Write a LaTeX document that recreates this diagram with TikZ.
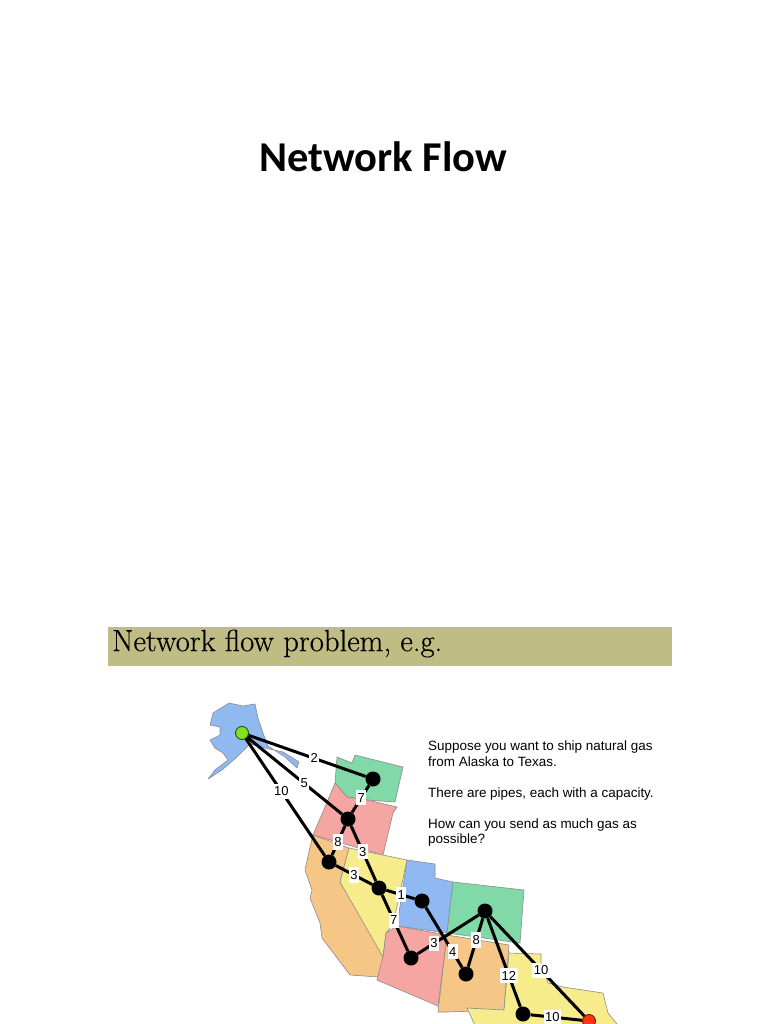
\documentclass[tikz,border=0pt]{standalone}
\usepackage{fontspec}
\setsansfont{Liberation Sans}
\newfontfamily\titlefont{Carlito}
\newfontfamily\bannerfont[FakeBold=0.4]{Latin Modern Roman}
\definecolor{bannercol}{HTML}{BFBD84}
\definecolor{blustate}{HTML}{8FB9F0}
\definecolor{grnstate}{HTML}{80D9A6}
\definecolor{redstate}{HTML}{F5A5A2}
\definecolor{orgstate}{HTML}{F5C686}
\definecolor{ylwstate}{HTML}{F6EC8C}
\definecolor{srccol}{HTML}{86E01E}
\definecolor{dstcol}{HTML}{FF3414}
\tikzset{
  state/.style={draw=black!45, line width=0.6pt, line join=round},
  hub/.style={circle, fill=black, minimum size=15pt, inner sep=0pt},
  pipe/.style={line width=3pt},
  capbox/.style={fill=white, inner xsep=1.5pt, inner ysep=3pt, font=\sffamily\fontsize{13}{15}\selectfont}
}
\begin{document}
\begin{tikzpicture}[x=1pt,y=-1pt]
        \clip (0,0) rectangle (768,1024);
        \fill[white] (0,0) rectangle (768,1024);
        % titolo e banda
        \node (title) at (383.5,157) {\titlefont\bfseries\fontsize{42.5}{50}\selectfont Network Flow};
        \fill[bannercol] (108,627) rectangle (672,666);
        \node[anchor=west, inner sep=0pt] (banner) at (112,643.5) {\bannerfont\fontsize{30.7}{36}\selectfont Network flow problem, e.g.};

        % stati
        \fill[blustate, state] (229,703) -- (243,706) -- (255,704) -- (258,718) -- (263,733) -- (268,746) -- (285,757) -- (297,768) -- (299,762) -- (283,752) -- (265,748) -- (250,744) -- (237,757) -- (222,770) -- (208,779) -- (215,770) -- (228,760) -- (223,753) -- (215,748) -- (210,740) -- (220,735) -- (220,727) -- (210,725) -- (213,713) -- cycle; % Alaska
        \fill[grnstate, state] (337,757) -- (352,763) -- (355,755) -- (403,767) -- (395,802) -- (367,800) -- (347,797) -- (335,783) -- cycle;
        \fill[redstate, state] (335,783) -- (347,797) -- (367,800) -- (397,807) -- (393,813) -- (383,855) -- (313,835) -- (325,807) -- cycle;
        \fill[orgstate, state] (313,835) -- (349,848) -- (340,882) -- (385,953) -- (378,977) -- (350,975) -- (322,938) -- (320,923) -- (310,898) -- (312,890) -- (305,870) -- (310,847) -- cycle;
        \fill[ylwstate, state] (349,848) -- (407,860) -- (393,925) -- (386,933) -- (383,957) -- (340,882) -- cycle;
        \fill[blustate, state] (407,860) -- (435,864) -- (435,878) -- (453,882) -- (447,933) -- (397,926) -- cycle;
        \fill[grnstate, state] (453,882) -- (524,890) -- (520,943) -- (447,933) -- cycle;
        \fill[redstate, state] (386,933) -- (397,926) -- (447,935) -- (438,1006) -- (377,980) -- (383,957) -- cycle;
        \fill[orgstate, state] (447,935) -- (509,945) -- (504,1010) -- (447,1012) -- (438,1012) -- cycle;
        \fill[ylwstate, state] (509,953) -- (541,954) -- (541,962) -- (548,983) -- (563,987) -- (583,990) -- (603,993) -- (608,1013) -- (622,1030) -- (477,1030) -- (467,1008) -- (504,1010) -- cycle; % Texas

        % punti
        \node[hub] (wa) at (373,779) {};
        \node[hub] (or) at (348,819) {};
        \node[hub] (ca) at (329,862) {};
        \node[hub] (nv) at (379,888) {};
        \node[hub] (ut) at (422,901) {};
        \node[hub] (co) at (485,911) {};
        \node[hub] (az) at (411,958) {};
        \node[hub] (nm) at (466,974) {};
        \node[hub] (tx) at (523,1014) {};
        \node[hub, fill=srccol, draw=black!70!green, line width=0.8pt, minimum size=13pt] (ak) at (242,733) {};
        \node[hub, fill=dstcol, draw=black!60!red, line width=0.8pt, minimum size=13pt] (dest) at (589,1021) {};

        % tubi: da / a / capacita / posizione
        \foreach \from/\to/\cap/\where in {ak/wa/2/.56, ak/or/5/.60, ak/ca/10/.45, wa/or/7/.45, or/ca/8/.55,
            or/nv/3/.47, ca/nv/3/.5, nv/ut/1/.53, nv/az/7/.45, az/co/3/.27, ut/nm/4/.74,
            nm/co/8/.55, co/tx/12/.65, co/dest/10/.54, tx/dest/10/.42}
          \draw[pipe] (\from) -- node[capbox, pos=\where] {\cap} (\to);

        \node[anchor=north west, inner sep=0pt, align=left, font=\sffamily\fontsize{13.45}{15.5}\selectfont] (story) at (428,741)
          {Suppose you want to ship natural gas\\from Alaska to Texas.\\[15.5pt]There are pipes, each with a capacity.\\[15.5pt]How can you send as much gas as\\possible?};
\end{tikzpicture}
\end{document}
